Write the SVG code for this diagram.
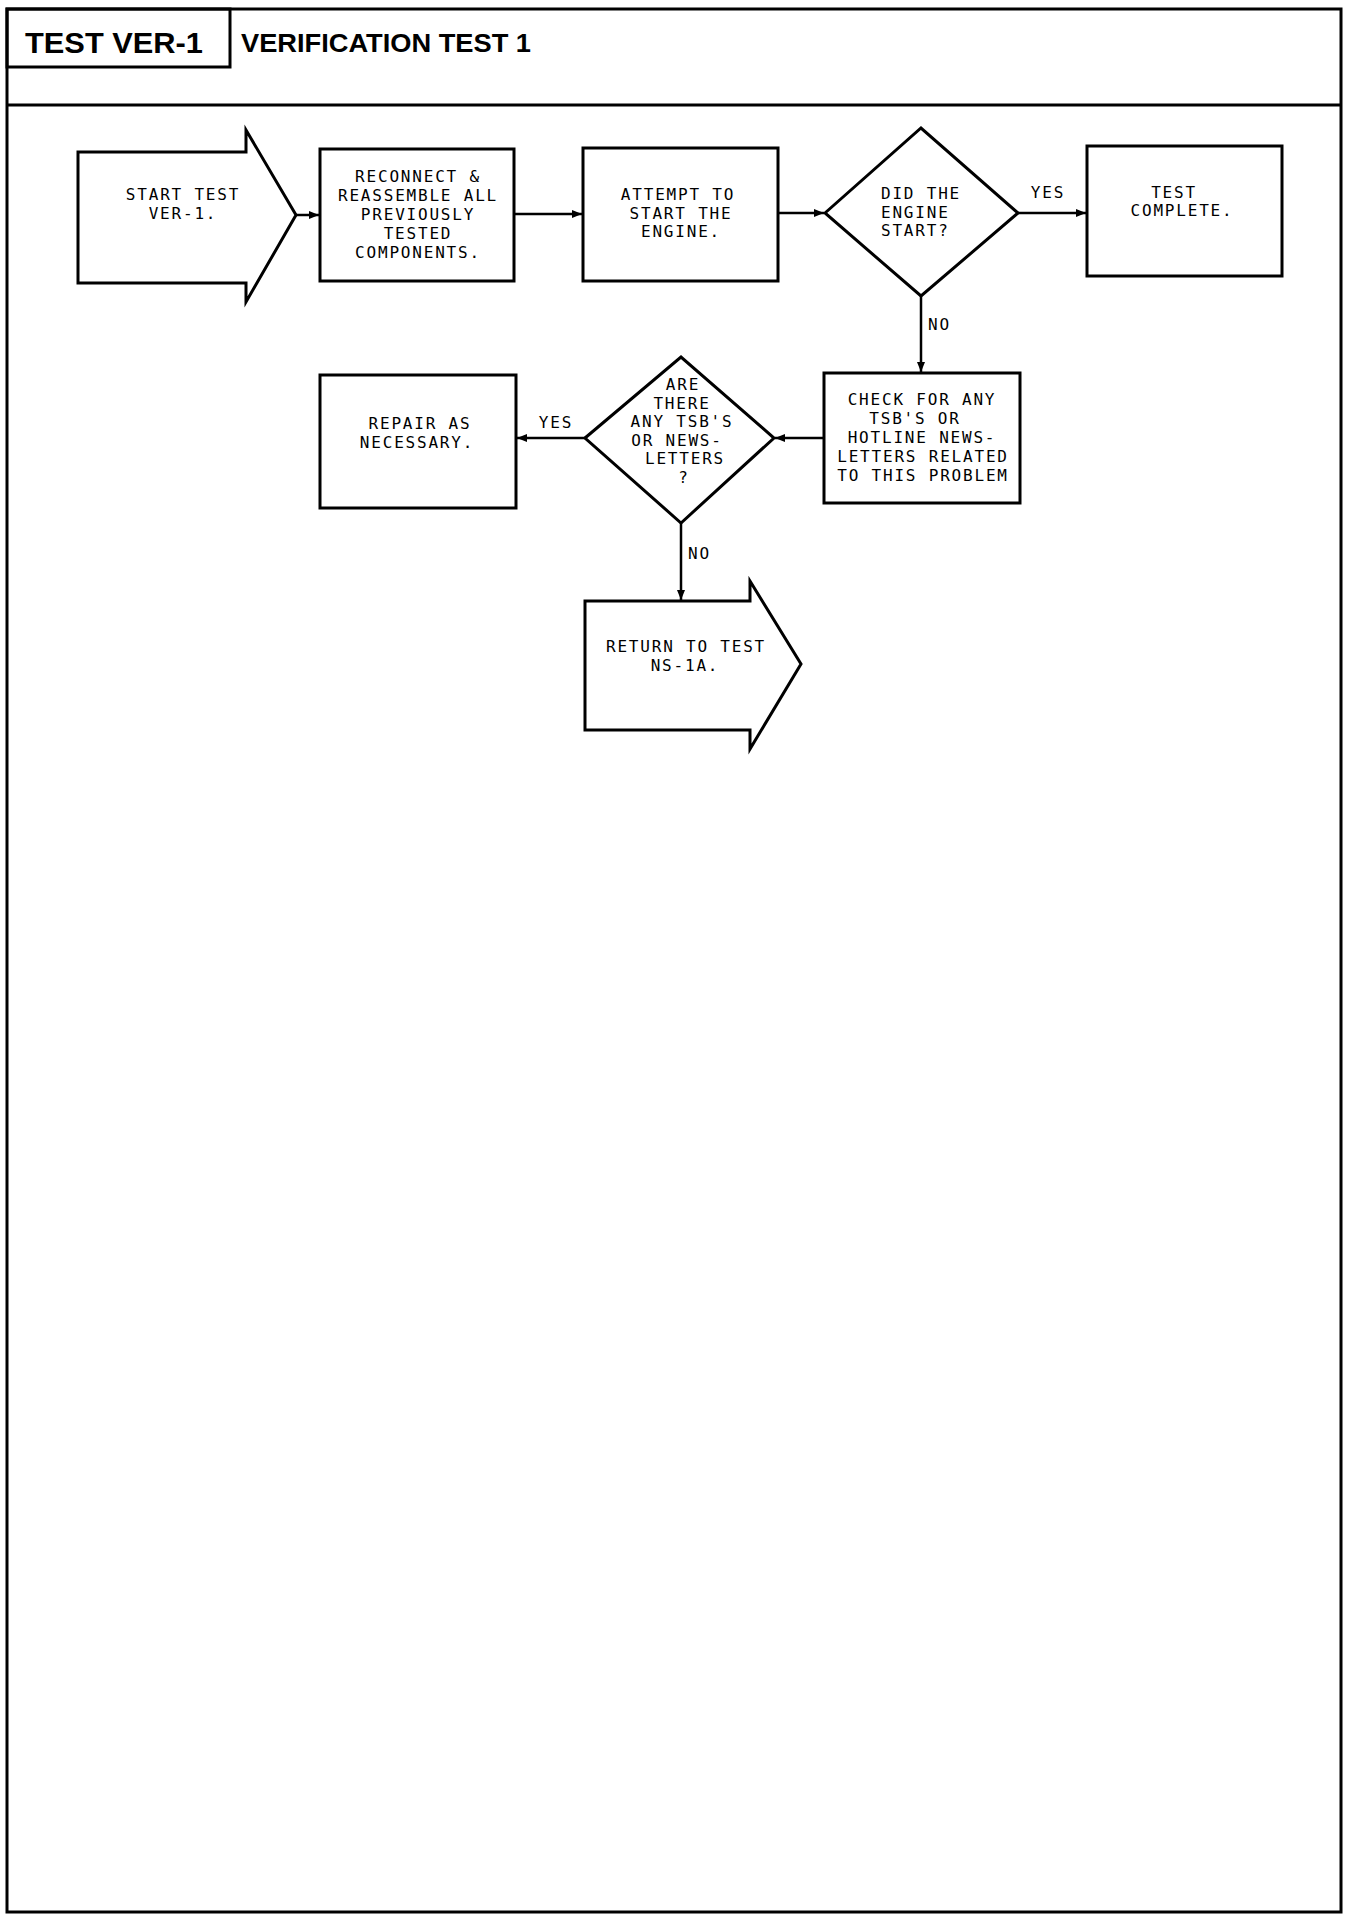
<svg xmlns="http://www.w3.org/2000/svg" width="1360" height="1926" viewBox="0 0 1360 1926">
<style>
.frame{fill:none;stroke:#000;stroke-width:3}
.node{fill:#fff;stroke:#000;stroke-width:3;stroke-linejoin:miter}
.conn{fill:none;stroke:#000;stroke-width:2.5}
.t{font-family:"DejaVu Sans Mono","Liberation Mono",monospace;font-size:16px;letter-spacing:1.8px;fill:#000;text-anchor:middle}
.l{font-family:"DejaVu Sans Mono","Liberation Mono",monospace;font-size:16px;letter-spacing:1.8px;fill:#000}
.h1{font-family:"Liberation Sans",Arial,sans-serif;font-weight:bold;font-size:30px;fill:#000}
.h2{font-family:"Liberation Sans",Arial,sans-serif;font-weight:bold;font-size:26px;fill:#000}
</style>
<defs>
<marker id="ah" markerWidth="10" markerHeight="8" refX="10" refY="4" orient="auto" markerUnits="userSpaceOnUse">
<path d="M0,0 L10,4 L0,8 Z" fill="#000"/>
</marker>
</defs>
<rect width="1360" height="1926" fill="#fff"/>
<g id="header">
<rect class="frame" x="7" y="9" width="1334" height="1903"/>
<rect class="frame" x="7" y="9" width="223" height="58"/>
<line class="frame" x1="7" y1="105" x2="1341" y2="105"/>
<text class="h1" x="25" y="53" textLength="178" lengthAdjust="spacingAndGlyphs">TEST VER-1</text>
<text class="h2" x="241" y="52" textLength="290" lengthAdjust="spacingAndGlyphs">VERIFICATION TEST 1</text>
</g>
<g id="connectors">
<line class="conn" x1="296" y1="215" x2="319" y2="215" marker-end="url(#ah)"/>
<line class="conn" x1="514" y1="214" x2="582" y2="214" marker-end="url(#ah)"/>
<line class="conn" x1="778" y1="213" x2="824" y2="213" marker-end="url(#ah)"/>
<line class="conn" x1="1018" y1="213" x2="1086" y2="213" marker-end="url(#ah)"/>
<line class="conn" x1="921" y1="296" x2="921" y2="372" marker-end="url(#ah)"/>
<line class="conn" x1="824" y1="438" x2="775" y2="438" marker-end="url(#ah)"/>
<line class="conn" x1="585" y1="438" x2="517" y2="438" marker-end="url(#ah)"/>
<line class="conn" x1="681" y1="523" x2="681" y2="600" marker-end="url(#ah)"/>
<text class="l" x="1048" y="198" text-anchor="middle">YES</text>
<text class="l" x="928" y="330">NO</text>
<text class="l" x="556" y="428" text-anchor="middle">YES</text>
<text class="l" x="688" y="559">NO</text>
</g>
<g id="start">
<polygon class="node" points="78,152 246,152 246,130 296,215 246,302 246,283 78,283"/>
<text class="t" x="183" y="200">START TEST</text>
<text class="t" x="183" y="219">VER-1.</text>
</g>
<g id="reconnect">
<rect class="node" x="320" y="149" width="194" height="132"/>
<text class="t" x="418" y="182">RECONNECT &amp;</text>
<text class="t" x="418" y="201">REASSEMBLE ALL</text>
<text class="t" x="418" y="220">PREVIOUSLY</text>
<text class="t" x="418" y="239">TESTED</text>
<text class="t" x="418" y="258">COMPONENTS.</text>
</g>
<g id="attempt">
<rect class="node" x="583" y="148" width="195" height="133"/>
<text class="t" x="678" y="200">ATTEMPT TO</text>
<text class="t" x="681" y="218.6">START THE</text>
<text class="t" x="681" y="237.2">ENGINE.</text>
</g>
<g id="didstart">
<polygon class="node" points="825,213 921,128 1018,213 921,296"/>
<text class="l" x="881" y="199">DID THE</text>
<text class="l" x="881" y="217.6">ENGINE</text>
<text class="l" x="881" y="236.2">START?</text>
</g>
<g id="complete">
<rect class="node" x="1087" y="146" width="195" height="130"/>
<text class="t" x="1174" y="197.5">TEST</text>
<text class="t" x="1182" y="216.1">COMPLETE.</text>
</g>
<g id="check">
<rect class="node" x="824" y="373" width="196" height="130"/>
<text class="t" x="922" y="405">CHECK FOR ANY</text>
<text class="t" x="915" y="424">TSB'S OR</text>
<text class="t" x="922" y="443">HOTLINE NEWS-</text>
<text class="t" x="923" y="462">LETTERS RELATED</text>
<text class="t" x="923" y="481">TO THIS PROBLEM</text>
</g>
<g id="tsb">
<polygon class="node" points="585,438 681,357 774,438 681,523"/>
<text class="t" x="683" y="390">ARE</text>
<text class="t" x="682" y="408.6">THERE</text>
<text class="t" x="682" y="427.2">ANY TSB'S</text>
<text class="t" x="677" y="445.8">OR NEWS-</text>
<text class="t" x="685" y="464.4">LETTERS</text>
<text class="t" x="684" y="483">?</text>
</g>
<g id="repair">
<rect class="node" x="320" y="375" width="196" height="133"/>
<text class="t" x="420" y="429">REPAIR AS</text>
<text class="t" x="417" y="447.6">NECESSARY.</text>
</g>
<g id="return">
<polygon class="node" points="585,601 750,601 750,581 801,664 750,749 750,730 585,730"/>
<text class="t" x="686" y="652">RETURN TO TEST</text>
<text class="t" x="685" y="670.6">NS-1A.</text>
</g>
</svg>
